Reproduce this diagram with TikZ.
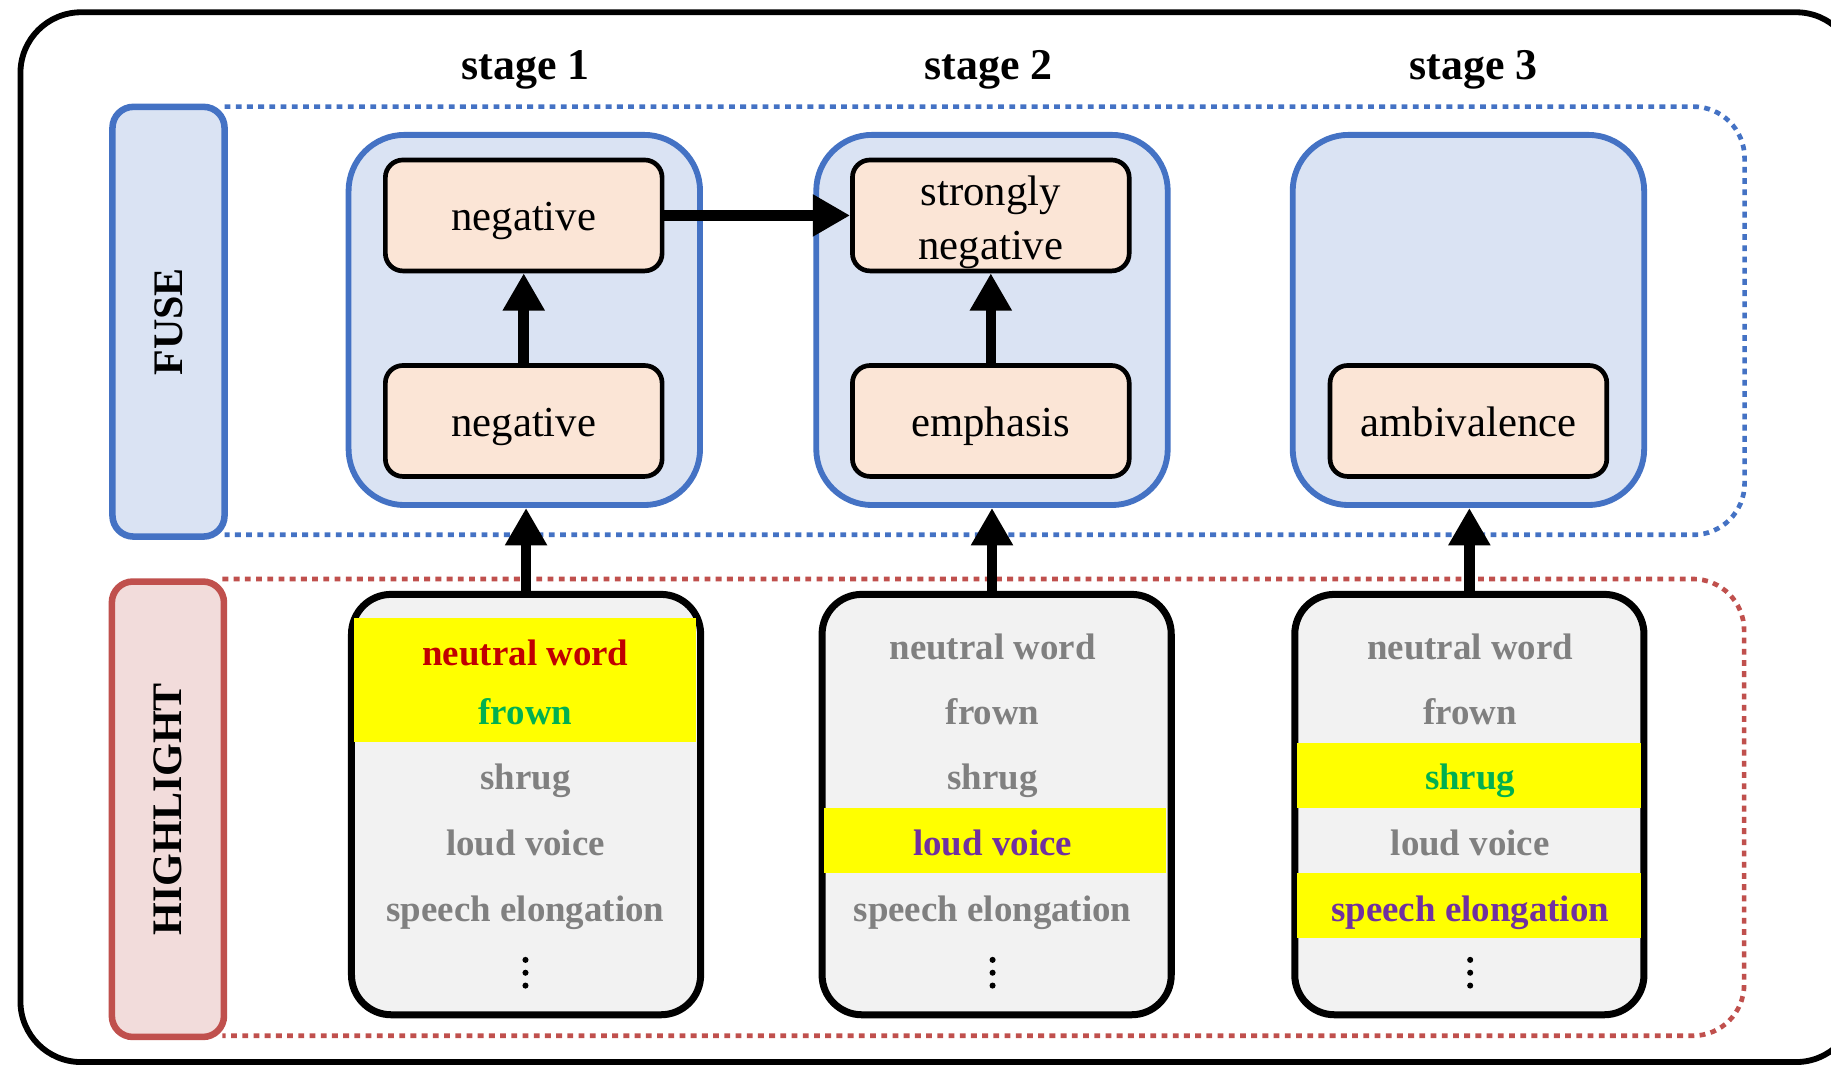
\documentclass[tikz,border=0pt]{standalone}
\usepackage{fontspec}
\setmainfont{Liberation Serif}
\usetikzlibrary{arrows.meta}
\definecolor{blueline}{HTML}{4472C4}
\definecolor{bluefill}{HTML}{DAE3F3}
\definecolor{redline}{HTML}{C0504D}
\definecolor{redfill}{HTML}{F2DCDB}
\definecolor{orangefill}{HTML}{FBE5D6}
\definecolor{grayfill}{HTML}{F2F2F2}
\definecolor{graytext}{HTML}{808080}
\definecolor{redtext}{HTML}{C00000}
\definecolor{greentext}{HTML}{00B050}
\definecolor{purpletext}{HTML}{7030A0}
\definecolor{hlyellow}{HTML}{FFFF00}
\begin{document}
\begin{tikzpicture}[x=0.5pt,y=-0.5pt,
  sidebox/.style={line width=2.8pt, rounded corners=9pt, rotate=90, minimum height=48pt, inner sep=0pt, font=\fontsize{18pt}{22pt}\selectfont\bfseries},
  dotline/.style={line width=2pt, dash pattern=on 2.5pt off 2.3pt, rounded corners=22pt},
  container/.style={draw=blueline, fill=bluefill, line width=2.5pt, rounded corners=24pt, minimum width=150.5pt, minimum height=158.5pt, inner sep=0pt},
  state/.style={draw=black, fill=orangefill, line width=2pt, rounded corners=7.5pt, minimum width=118.5pt, minimum height=47.5pt, inner sep=0pt, font=\fontsize{18.3pt}{22.3pt}\selectfont, align=center},
  single/.style={text height=13pt, text depth=0pt},
  listbox/.style={draw=black, fill=grayfill, line width=3pt, rounded corners=17pt, minimum width=149.5pt, minimum height=180pt, inner sep=0pt},
  item/.style={anchor=base, inner sep=0pt, font=\fontsize{15.8pt}{19pt}\selectfont\bfseries, text=graytext},
  stagelabel/.style={anchor=base, inner sep=0pt, font=\fontsize{18.8pt}{22pt}\selectfont\bfseries},
  arr/.style={line width=4.5pt, -{Triangle[length=16pt,width=17pt]}}
]
\clip (0,0) rectangle (1568,916);
\fill[white] (0,0) rectangle (1568,916);
% outer frame
\draw[line width=2.5pt, rounded corners=26pt] (17.5,10.5) rectangle (1590,909.5);

% dotted group outlines
\draw[dotline, draw=blueline] (192.3,91.3) -- (1494,91.3) -- (1494,458) -- (192.3,458);
\draw[dotline, draw=redline] (190.5,495.8) -- (1493.6,495.8) -- (1493.6,887) -- (190.5,887);

% side labels
\node[sidebox, draw=blueline, fill=bluefill, minimum width=184pt] (fuse) at (144.3,275.5) {FUSE};
\node[sidebox, draw=redline, fill=redfill, minimum width=195pt] (high) at (143.8,693) {HIGHLIGHT};

% stage labels
\node[stagelabel] (st1) at (450,68) {stage 1};
\node[stagelabel] (st2) at (846.5,68) {stage 2};
\node[stagelabel] (st3) at (1262,68) {stage 3};

% fuse containers
\node[container] (c1) at (449,274) {};
\node[container] (c2) at (849.5,274) {};
\node[container] (c3) at (1257.5,274) {};

\node[state,single] (n1) at (448.5,360.5) {negative};
\node[state,single] (n2) at (448.5,184.5) {negative};
\node[state] (s2) at (848.5,184.5) {\raisebox{-3pt}[\height][\depth]{\shortstack{strongly\\[4pt]negative}}};
\node[state,single] (e1) at (848.5,360.5) {emphasis};
\node[state,single] (a1) at (1257.5,360.5) {ambivalence};

% list boxes
\node[listbox] (l1) at (450.5,689) {};
\node[listbox] (l2) at (853.5,689) {};
\node[listbox] (l3) at (1258.3,689) {};

% highlight bands
\fill[hlyellow] (303,529) rectangle (596,635);
\fill[hlyellow] (706,692) rectangle (998.5,748);
\fill[hlyellow] (1110.5,636) rectangle (1405,692);
\fill[hlyellow] (1110.5,748) rectangle (1405,803.5);

% list 1
\node[item, text=redtext] (l1a) at (450,569.5) {neutral word};
\node[item, text=greentext] (l1b) at (450,620) {frown};
\node[item] (l1c) at (450,676.5) {shrug};
\node[item] (l1d) at (450,732.5) {loud voice};
\node[item] (l1e) at (450,789) {speech elongation};
% list 2
\node[item] (l2a) at (850,564.5) {neutral word};
\node[item] (l2b) at (850,620) {frown};
\node[item] (l2c) at (850,676.5) {shrug};
\node[item, text=purpletext] (l2d) at (850,732.5) {loud voice};
\node[item] (l2e) at (850,789) {speech elongation};
% list 3
\node[item] (l3a) at (1259,564.5) {neutral word};
\node[item] (l3b) at (1259,620) {frown};
\node[item, text=greentext] (l3c) at (1259,676.5) {shrug};
\node[item] (l3d) at (1259,732.5) {loud voice};
\node[item, text=purpletext] (l3e) at (1259,789) {speech elongation};

% vertical ellipses
\foreach \xx in {450,850,1259}{
  \foreach \yy in {822,833,844}{
    \fill (\xx,\yy) circle (1.3pt);
  }
}

% arrows
\draw[arr] (n1) -- (n2);
\draw[arr] (e1) -- (s2);
\draw[arr] (n2.east) -- (s2.west);
\draw[arr] (l1.north) -- (l1.north |- c1.south);
\draw[arr] (l1.north -| c2.south) -- (c2.south);
\draw[arr] (l3.north) -- (l3.north |- c3.south);
\end{tikzpicture}
\end{document}
